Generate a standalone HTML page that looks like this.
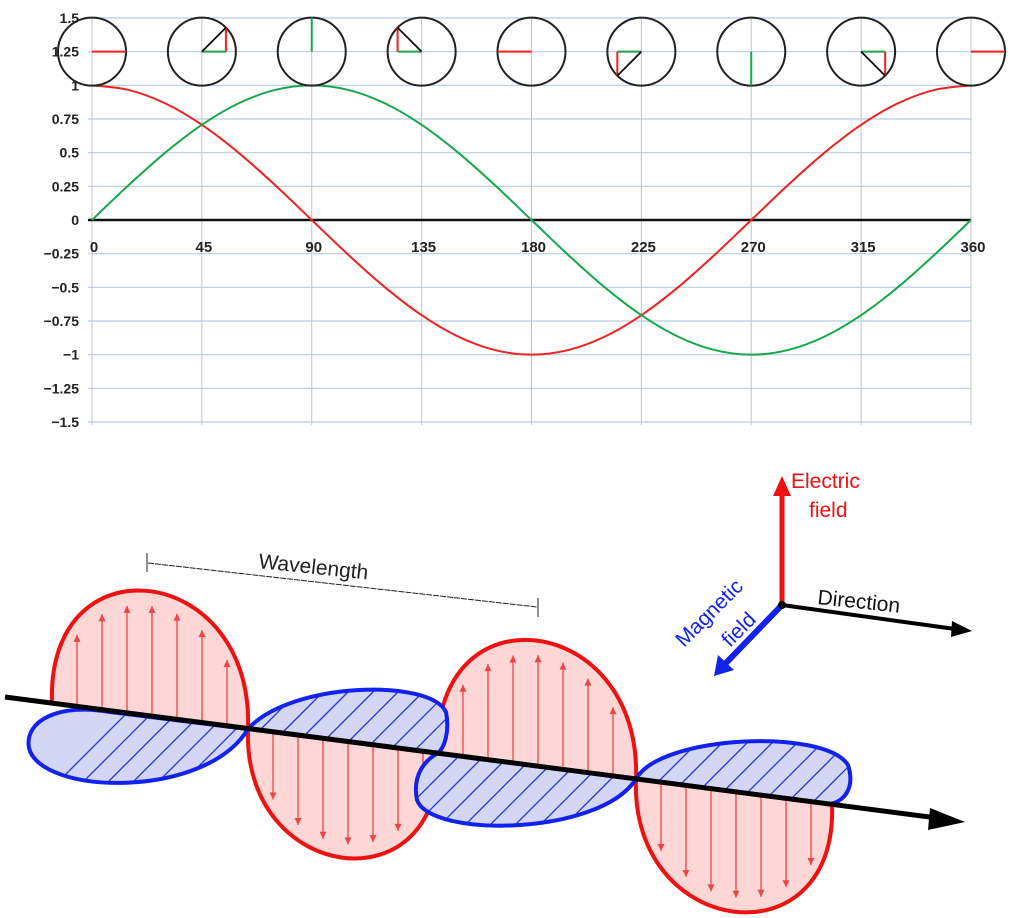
<!DOCTYPE html>
<html><head><meta charset="utf-8">
<style>
html,body{margin:0;padding:0;background:#fff;width:1011px;height:918px;overflow:hidden;position:relative;}
svg{display:block;font-family:"Liberation Sans",sans-serif;}
.yl{font-size:14px;font-weight:bold;fill:#222;text-anchor:end;}
.xl{font-size:15px;font-weight:bold;fill:#222;text-anchor:middle;}
</style></head>
<body>
<svg id="s" width="1011" height="918" viewBox="0 0 1011 918" style="position:absolute;left:0;top:0">
  <g id="chart"></g>
  <g id="wave"></g>
</svg>
<script>
const NS='http://www.w3.org/2000/svg';
const yTicks=[1.5,1.25,1,0.75,0.5,0.25,0,-0.25,-0.5,-0.75,-1,-1.25,-1.5];
const yTickLabels=['1.5','1.25','1','0.75','0.5','0.25','0','\u22120.25','\u22120.5','\u22120.75','\u22121','\u22121.25','\u22121.5'];
const xTicks=[0,45,90,135,180,225,270,315,360];
const angles=[0,15,30,45,60,75,90,105,120,135,150,165,180,195,210,225,240,255,270,285,300,315,330,345,360];
const cosValues=[1,0.966,0.866,0.707,0.5,0.259,0,-0.259,-0.5,-0.707,-0.866,-0.966,-1,-0.966,-0.866,-0.707,-0.5,-0.259,0,0.259,0.5,0.707,0.866,0.966,1];
const sinValues=[0,0.259,0.5,0.707,0.866,0.966,1,0.966,0.866,0.707,0.5,0.259,0,-0.259,-0.5,-0.707,-0.866,-0.966,-1,-0.966,-0.866,-0.707,-0.5,-0.259,0];
const phasorAngles=[0,45,90,135,180,225,270,315,360];

const X=d=>92+d*(971-92)/360;
const Y=v=>220-v*(202/1.5);
function el(tag,attrs,parent){const e=document.createElementNS(NS,tag);for(const k in attrs)e.setAttribute(k,attrs[k]);parent.appendChild(e);return e;}
const chart=document.getElementById('chart');

yTicks.forEach((t,i)=>{
  const g=el('line',{x1:88,x2:971,y1:Y(t),y2:Y(t),stroke:'#b8cce8','stroke-width':1.2},chart);
  
  
  const tx=el('text',{x:79,y:Y(t)+5,class:'yl'},chart);tx.textContent=yTickLabels[i];
  
  
});
xTicks.forEach(d=>{
  const g=el('line',{x1:X(d),x2:X(d),y1:18,y2:425,stroke:'#c4c4c4','stroke-width':1},chart);
  
  
  const tx=el('text',{x:X(d)+2,y:252,class:'xl'},chart);tx.textContent=String(d);
  
  
});
const ax=el('line',{x1:88,x2:971,y1:Y(0),y2:Y(0),stroke:'#111','stroke-width':2.5},chart);



function smooth(vals){
  const p=angles.map((a,i)=>[X(a),Y(vals[i])]);
  let d='M'+p[0][0]+','+p[0][1];
  for(let i=0;i<p.length-1;i++){
    const p0=p[Math.max(0,i-1)],p1=p[i],p2=p[i+1],p3=p[Math.min(p.length-1,i+2)];
    d+=' C'+(p1[0]+(p2[0]-p0[0])/6)+','+(p1[1]+(p2[1]-p0[1])/6)+' '+(p2[0]-(p3[0]-p1[0])/6)+','+(p2[1]-(p3[1]-p1[1])/6)+' '+p2[0]+','+p2[1];
  }
  return d;
}
const cl=el('path',{d:smooth(cosValues),fill:'none',stroke:'#ee2222','stroke-width':2},chart);


const sl=el('path',{d:smooth(sinValues),fill:'none',stroke:'#17a84a','stroke-width':2},chart);



phasorAngles.forEach(a=>{
  const cx=X(a),cy=Y(1.25),r=34;
  const g=el('g',{},chart);
  
  
  el('circle',{cx:cx,cy:cy,r:r,fill:'none',stroke:'#222','stroke-width':2},g);
  const c=Math.cos(a*Math.PI/180),s=Math.sin(a*Math.PI/180);
  const L=r;
  const ex=cx+L*c,ey=cy-L*s;
  if(Math.abs(s)<0.01){el('line',{x1:cx,y1:cy,x2:ex,y2:cy,stroke:'#ee2222','stroke-width':2},g);}
  else if(Math.abs(c)<0.01){el('line',{x1:cx,y1:cy,x2:cx,y2:ey,stroke:'#17a84a','stroke-width':2},g);}
  else{
    el('line',{x1:cx,y1:cy,x2:ex,y2:cy,stroke:'#17a84a','stroke-width':2},g);
    el('line',{x1:ex,y1:cy,x2:ex,y2:ey,stroke:'#ee2222','stroke-width':2},g);
    el('line',{x1:cx,y1:cy,x2:ex,y2:ey,stroke:'#111','stroke-width':1.8},g);
  }
});

// ---- EM wave diagram ----
const wave=document.getElementById('wave');
const axY=x=>697+(x-5)*(125/960);
const defs=el('defs',{},wave);
const redLobes=[[52,248,125],[248,438,-117],[438,636,126],[636,832,-120]];
redLobes.forEach((L,i)=>{
  const [x1,x2,h]=L,y1=axY(x1),y2=axY(x2),k=h*1.33;
  const d='M'+x1+','+y1+' C'+(x1-6)+','+(y1-k)+' '+(x2+6)+','+(y2-k)+' '+x2+','+y2+' Z';
  const cp=el('clipPath',{id:'cr'+i},defs);el('path',{d:d},cp);
  const g=el('g',{},wave);
  
  
  el('path',{d:d,fill:'#fdd6d6'},g);
  const hg=el('g',{'clip-path':'url(#cr'+i+')'},g);
  const sg=h>0?1:-1;
  for(let x=x1+25;x<x2-10;x+=25){
    const ya=axY(x);
    const t=(x-x1)/(x2-x1);
    const len=Math.abs(h)*Math.sqrt(Math.max(0,1-Math.pow(2*t-1,2)))*0.93-6;
    const yb=ya-sg*len;
    el('line',{x1:x,y1:ya,x2:x,y2:yb,stroke:'#ee4444','stroke-width':1.3},hg);
    el('path',{d:'M'+(x-3.5)+','+(yb+sg*7)+' L'+x+','+yb+' L'+(x+3.5)+','+(yb+sg*7)+' Z',fill:'#ee4444'},hg);
  }
  el('path',{d:d,fill:'none',stroke:'#ee1111','stroke-width':4},g);
});
const blueLobePaths=[
 'M248,729 C205,800 40,795 29,748 C24,720 60,703 110,712 L248,729 Z',
 'M248,729 C290,682 430,678 446,712 C450,732 444,748 438,753 Z',
 'M636,779 C600,836 430,838 417,800 C412,775 425,760 438,753 Z',
 'M636,779 C660,735 825,728 848,765 C856,790 842,802 830,804 Z'
];
blueLobePaths.forEach((d,i)=>{
  const cp=el('clipPath',{id:'cb'+i},defs);el('path',{d:d},cp);
  const g=el('g',{},wave);
  
  
  el('path',{d:d,fill:'#d4d6f6'},g);
  const hg=el('g',{'clip-path':'url(#cb'+i+')'},g);
  for(let x=0;x<900;x+=25){
    el('line',{x1:x,y1:840,x2:x+150,y2:690,stroke:'#2233dd','stroke-width':1.3},hg);
  }
  el('path',{d:d,fill:'none',stroke:'#1122ee','stroke-width':4},g);
});
const pa=el('line',{x1:5,y1:697,x2:945,y2:819,stroke:'#000','stroke-width':5},wave);


const ph=el('path',{d:'M965,822 L930,808 L928,830 Z',fill:'#000'},wave);


</script>
<svg width="1011" height="918" style="position:absolute;left:0;top:0">
  <g stroke="#222" stroke-width="1">
    <line x1="147" y1="553" x2="147" y2="572"/>
    <line x1="538" y1="598" x2="538" y2="617"/>
    <line x1="148" y1="563" x2="537" y2="607" stroke-dasharray="6,1"/>
  </g>
  <text x="258" y="568" font-family="Liberation Sans, sans-serif" font-size="21" fill="#222" transform="rotate(6 258 568)">Wavelength</text>
  <g>
    <line x1="782" y1="605" x2="782" y2="492" stroke="#ee1111" stroke-width="5"/>
    <path d="M782,476 L773,496 L791,496 Z" fill="#ee1111"/>
    <line x1="782" y1="605" x2="955" y2="629" stroke="#000" stroke-width="4"/>
    <path d="M972,631 L952,621 L951,637 Z" fill="#000"/>
    <line x1="782" y1="605" x2="724" y2="665" stroke="#1122ee" stroke-width="6"/>
    <path d="M714,676 L718,655 L734,670 Z" fill="#1122ee"/>
    <circle cx="782" cy="605" r="4" fill="#000"/>
  </g>
  <text x="791" y="488" font-family="Liberation Sans, sans-serif" font-size="21" fill="#ee1111">Electric</text>
  <text x="809" y="517" font-family="Liberation Sans, sans-serif" font-size="21" fill="#ee1111">field</text>
  <text x="817" y="604" font-family="Liberation Sans, sans-serif" font-size="21" fill="#111" transform="rotate(6 817 604)">Direction</text>
  <text x="684" y="648" font-family="Liberation Sans, sans-serif" font-size="21" fill="#1122ee" transform="rotate(-45 684 648)">Magnetic</text>
  <text x="730" y="648" font-family="Liberation Sans, sans-serif" font-size="21" fill="#1122ee" transform="rotate(-45 730 648)">field</text>
</svg>
</body></html>
